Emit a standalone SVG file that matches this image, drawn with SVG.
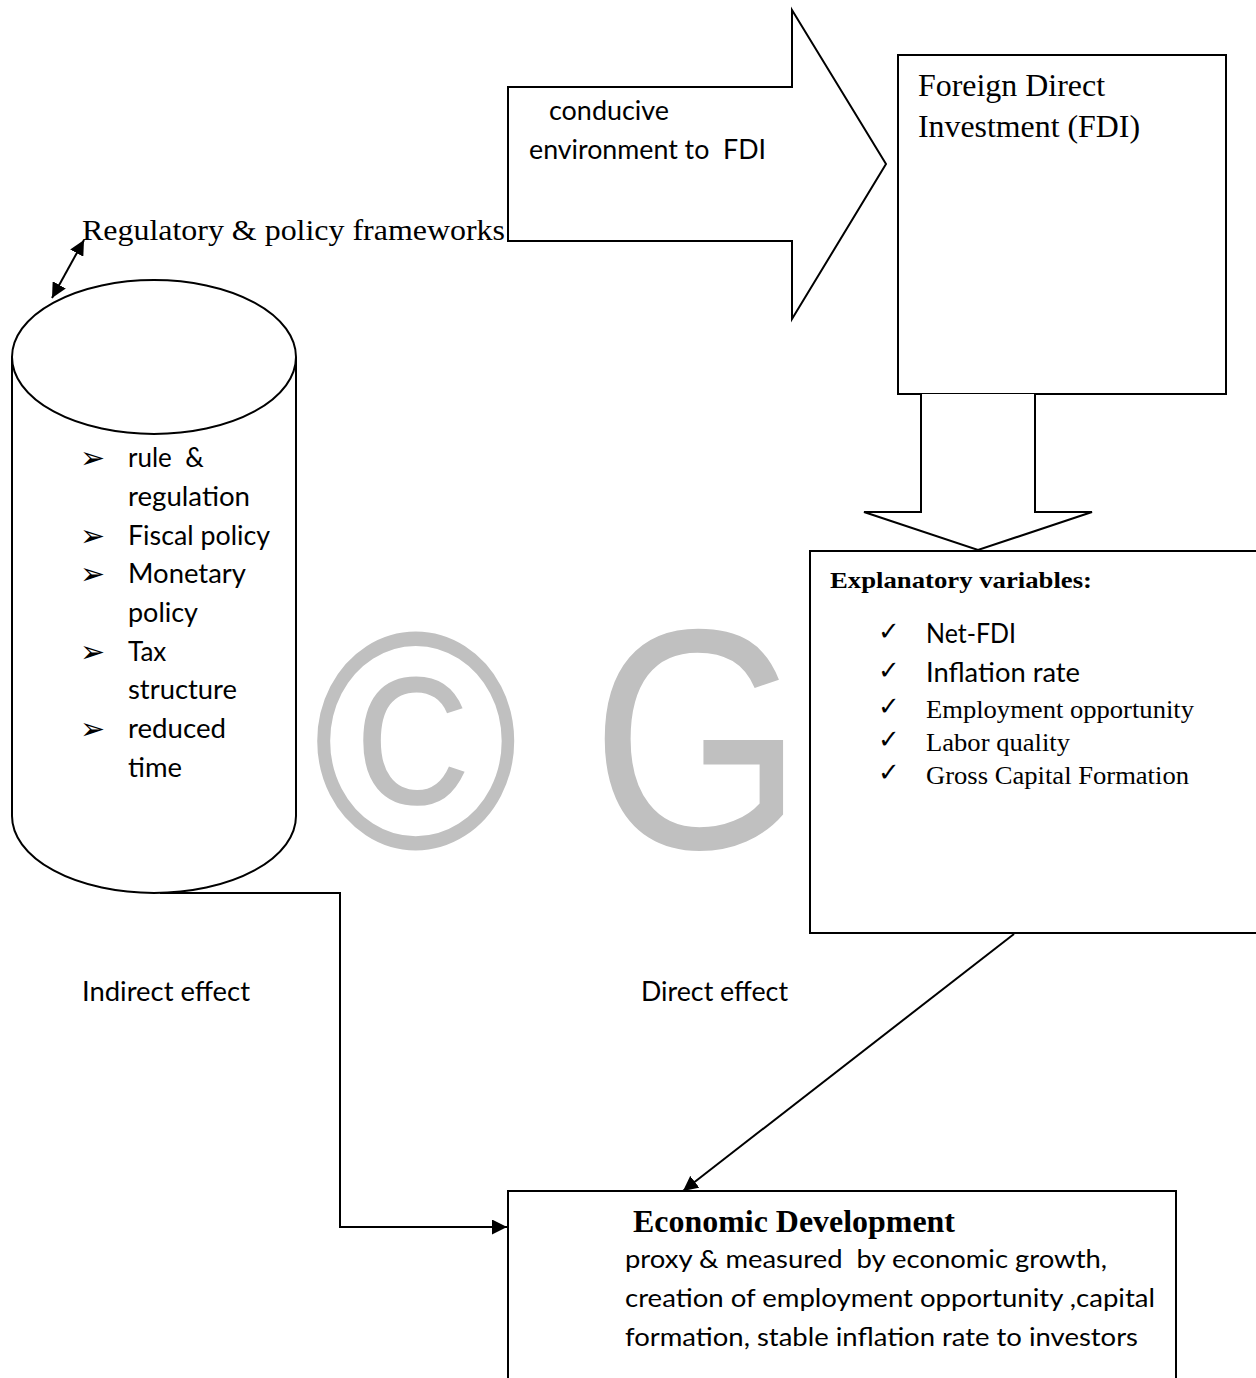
<svg xmlns="http://www.w3.org/2000/svg" width="1256" height="1378" viewBox="0 0 1256 1378">
<defs>
<style>
.ln{fill:none;stroke:#000;stroke-width:2}
.sh{fill:#fff;stroke:#000;stroke-width:2}
.tr{font-family:"Liberation Serif","Times New Roman",serif;fill:#000}
.ca{font-family:Lato,"Open Sans",sans-serif;fill:#000}
.sym{font-family:"DejaVu Sans",sans-serif;fill:#000}
.wm{font-family:"Liberation Sans",Arial,sans-serif;fill:#c0c0c0}
</style>
<marker id="ah2" viewBox="0 0 10 10" refX="10" refY="5" markerWidth="15" markerHeight="15" markerUnits="userSpaceOnUse" orient="auto-start-reverse">
<path d="M0,0 L10,5 L0,10 z" fill="#000"/>
</marker>
</defs>
<rect width="1256" height="1378" fill="#fff"/>

<g id="watermark">
<text class="wm" x="0" y="0" font-size="310" transform="translate(313,848) scale(0.9,1)">©</text>
<text class="wm" x="0" y="0" font-size="314" transform="translate(591,848) scale(0.87,1)">G</text>
</g>

<g id="regulatory">
<path class="sh" d="M12,357 L12,816 A142,77 0 0 0 296,816 L296,357"/>
<ellipse class="sh" cx="154" cy="357" rx="142" ry="77"/>
<text class="tr" x="82" y="240" font-size="30" textLength="423" lengthAdjust="spacingAndGlyphs">Regulatory &amp; policy frameworks</text>
<g class="sym" font-size="30">
<text x="80" y="468">➢</text>
<text x="80" y="546">➢</text>
<text x="80" y="584">➢</text>
<text x="80" y="662">➢</text>
<text x="80" y="739">➢</text>
</g>
<g class="ca" font-size="26">
<text x="128" y="467" xml:space="preserve">rule  &amp;</text>
<text x="128" y="506" textLength="122" lengthAdjust="spacingAndGlyphs">regulation</text>
<text x="128" y="545" textLength="142" lengthAdjust="spacingAndGlyphs">Fiscal policy</text>
<text x="128" y="583" textLength="118" lengthAdjust="spacingAndGlyphs">Monetary</text>
<text x="128" y="622" textLength="70" lengthAdjust="spacingAndGlyphs">policy</text>
<text x="128" y="661">Tax</text>
<text x="128" y="699" textLength="109" lengthAdjust="spacingAndGlyphs">structure</text>
<text x="128" y="738" textLength="98" lengthAdjust="spacingAndGlyphs">reduced</text>
<text x="128" y="777" textLength="54" lengthAdjust="spacingAndGlyphs">time</text>
</g>
</g>

<g id="conducive">
<path class="sh" d="M508,87 L792,87 L792,10 L886,164 L792,319 L792,241 L508,241 Z"/>
<text class="ca" x="549" y="120" font-size="26" textLength="120" lengthAdjust="spacingAndGlyphs">conducive</text>
<text class="ca" x="529" y="159" font-size="26" textLength="237" lengthAdjust="spacingAndGlyphs" xml:space="preserve">environment to  FDI</text>
</g>

<g id="fdi">
<rect class="sh" x="898" y="55" width="328" height="339"/>
<text class="tr" x="918" y="96" font-size="32" textLength="187" lengthAdjust="spacingAndGlyphs">Foreign Direct</text>
<text class="tr" x="918" y="137" font-size="32" textLength="222" lengthAdjust="spacingAndGlyphs">Investment (FDI)</text>
</g>

<g id="down-arrow">
<path class="sh" d="M921,394 L921,512 L864,512 L978,550 L1092,512 L1035,512 L1035,394"/>
</g>

<g id="explanatory">
<rect class="sh" x="810" y="551" width="460" height="382"/>
<text class="tr" x="830" y="588" font-size="24" font-weight="bold" textLength="262" lengthAdjust="spacingAndGlyphs">Explanatory variables:</text>
<g class="sym" font-size="26">
<text x="878" y="640">✓</text>
<text x="878" y="679">✓</text>
<text x="878" y="715">✓</text>
<text x="878" y="748">✓</text>
<text x="878" y="781">✓</text>
</g>
<text class="ca" x="926" y="643" font-size="26" textLength="90" lengthAdjust="spacingAndGlyphs">Net-FDI</text>
<text class="ca" x="926" y="682" font-size="26" textLength="154" lengthAdjust="spacingAndGlyphs">Inflation rate</text>
<text class="tr" x="926" y="718" font-size="26" textLength="268" lengthAdjust="spacingAndGlyphs">Employment opportunity</text>
<text class="tr" x="926" y="751" font-size="26" textLength="144" lengthAdjust="spacingAndGlyphs">Labor quality</text>
<text class="tr" x="926" y="784" font-size="26" textLength="263" lengthAdjust="spacingAndGlyphs">Gross Capital Formation</text>
</g>

<g id="econ">
<path class="sh" d="M508,1380 L508,1191 L1176,1191 L1176,1380"/>
<text class="tr" x="633" y="1232" font-size="31" font-weight="bold" textLength="322" lengthAdjust="spacingAndGlyphs">Economic Development</text>
<text class="ca" x="625" y="1268" font-size="25" textLength="482" lengthAdjust="spacingAndGlyphs" xml:space="preserve">proxy &amp; measured  by economic growth,</text>
<text class="ca" x="625" y="1307" font-size="25" textLength="530" lengthAdjust="spacingAndGlyphs">creation of employment opportunity ,capital</text>
<text class="ca" x="625" y="1346" font-size="25" textLength="513" lengthAdjust="spacingAndGlyphs">formation, stable inflation rate to investors</text>
</g>

<g id="connectors">
<line class="ln" x1="52" y1="298" x2="84" y2="240" marker-start="url(#ah2)" marker-end="url(#ah2)"/>
<path class="ln" d="M160,893 L340,893 L340,1227 L507,1227" marker-end="url(#ah2)"/>
<line class="ln" x1="1014" y1="934" x2="683" y2="1191" marker-end="url(#ah2)"/>
<text class="ca" x="82" y="1001" font-size="26" textLength="168" lengthAdjust="spacingAndGlyphs">Indirect effect</text>
<text class="ca" x="641" y="1001" font-size="26" textLength="147" lengthAdjust="spacingAndGlyphs">Direct effect</text>
</g>
</svg>
